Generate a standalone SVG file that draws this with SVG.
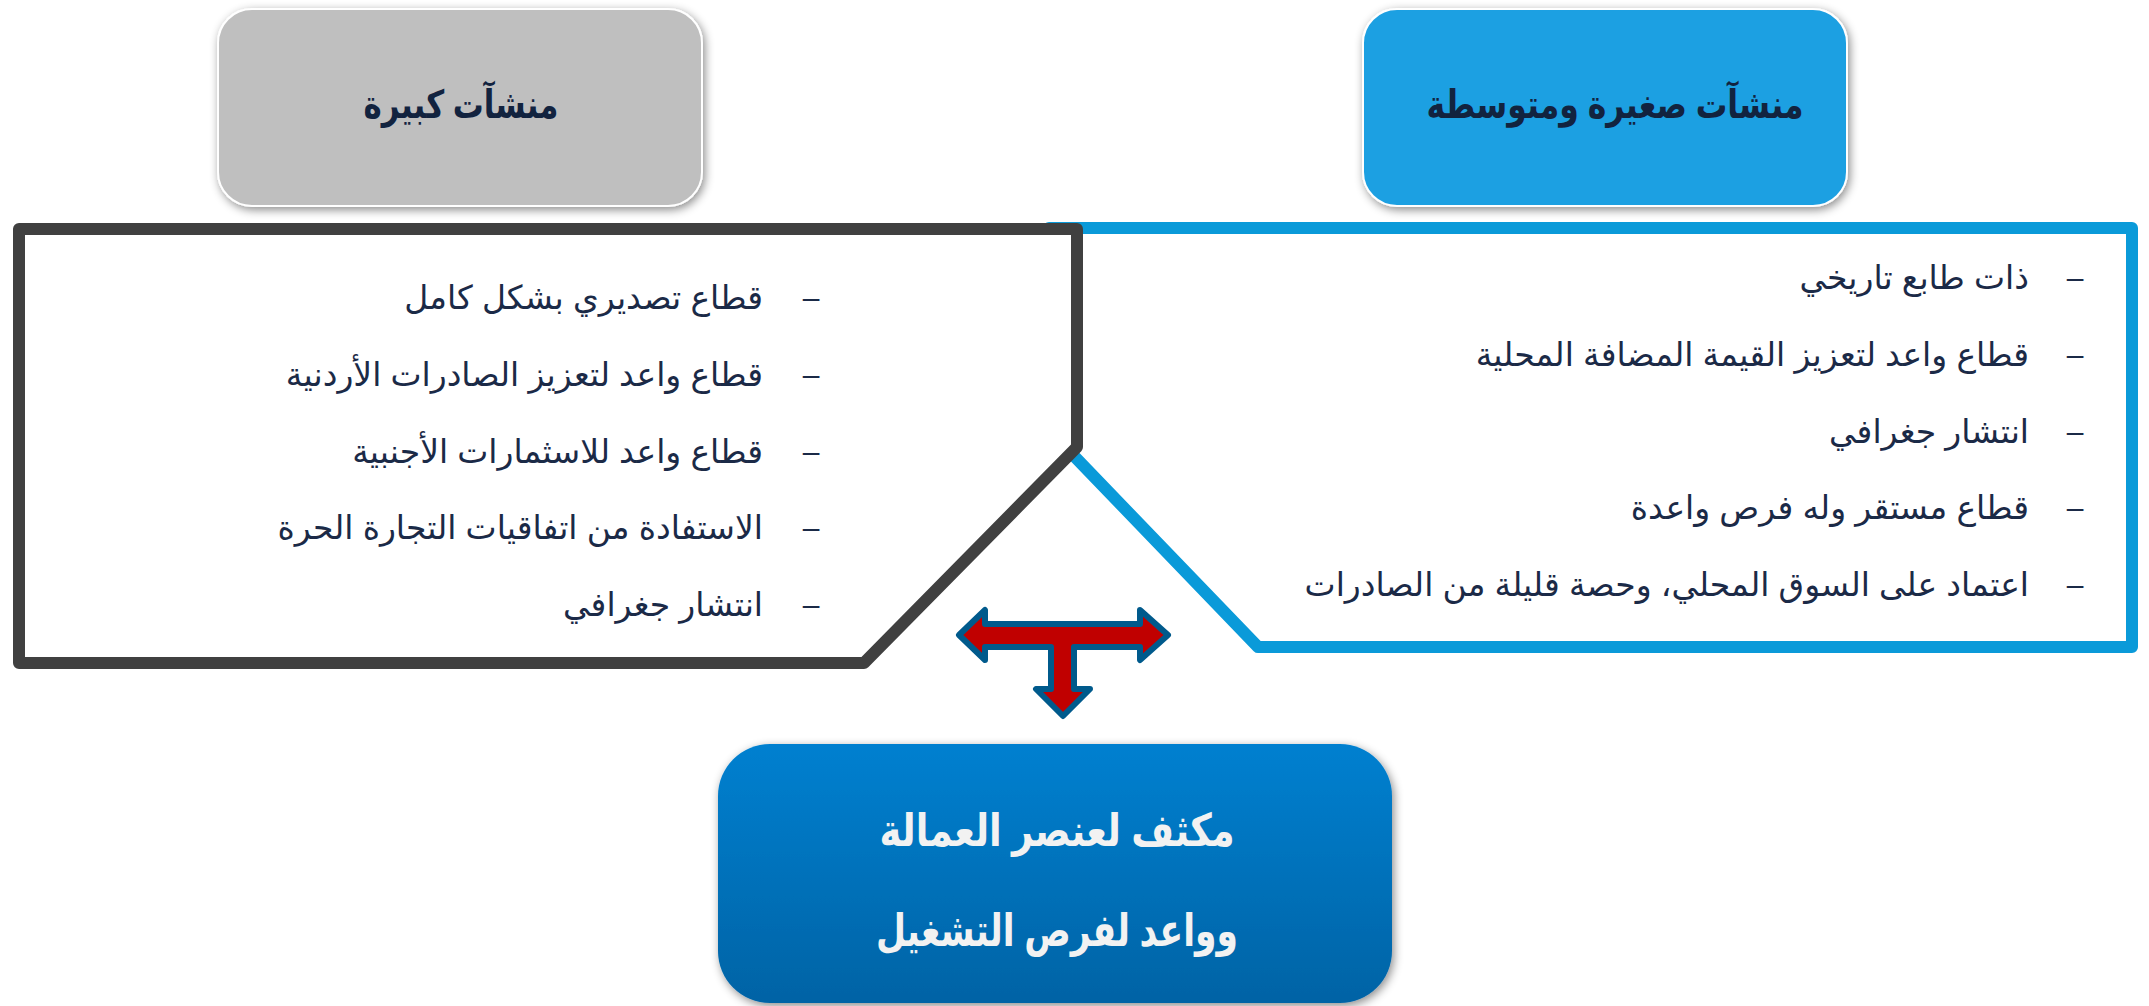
<svg xmlns="http://www.w3.org/2000/svg" width="2149" height="1006" viewBox="0 0 2149 1006">
<defs>
<style>
.hd{font-family:"Liberation Sans","DejaVu Sans",sans-serif;font-weight:bold;font-size:39px;fill:#12233F;text-anchor:middle}
.li{font-family:"Liberation Sans","DejaVu Sans",sans-serif;font-size:33px;fill:#1B2A47;text-anchor:end}
.da{font-family:"Liberation Sans",sans-serif;font-size:30px;fill:#1B2A47;text-anchor:middle}
.bt{font-family:"Liberation Sans","DejaVu Sans",sans-serif;font-weight:bold;font-size:45px;fill:#F2F2F2;text-anchor:middle}
</style>
<filter id="sh" x="-10%" y="-20%" width="120%" height="140%">
<feDropShadow dx="2" dy="3" stdDeviation="5" flood-color="#000" flood-opacity="0.45"/>
</filter>
<linearGradient id="gb" x1="0" y1="0" x2="0" y2="1">
<stop offset="0" stop-color="#0080D0"/>
<stop offset="1" stop-color="#0063A5"/>
</linearGradient>
</defs>
<rect width="2149" height="1006" fill="#FFFFFF"/>
<g id="small-medium-panel">
<path d="M1049,228 L2132,228 L2132,647 L1258,647 L1049,430 Z" fill="#FFFFFF" stroke="#0A9AD9" stroke-width="12" stroke-linejoin="round"/>
<text class="da" x="2075" y="288">–</text>
<text class="li" x="2029" y="289">ذات طابع تاريخي</text>
<text class="da" x="2075" y="365">–</text>
<text class="li" x="2029" y="366">قطاع واعد لتعزيز  القيمة المضافة المحلية</text>
<text class="da" x="2075" y="442">–</text>
<text class="li" x="2029" y="443">انتشار جغرافي</text>
<text class="da" x="2075" y="518">–</text>
<text class="li" x="2029" y="519">قطاع مستقر وله فرص واعدة</text>
<text class="da" x="2075" y="595">–</text>
<text class="li" x="2029" y="596">اعتماد على السوق المحلي، وحصة قليلة من الصادرات</text>
</g>
<g id="large-panel">
<path d="M19,229 L1077,229 L1077,447 L864,663 L19,663 Z" fill="#FFFFFF" stroke="#404040" stroke-width="12" stroke-linejoin="round"/>
<text class="da" x="811" y="308">–</text>
<text class="li" x="763" y="309">قطاع تصديري بشكل كامل</text>
<text class="da" x="811" y="385">–</text>
<text class="li" x="763" y="386">قطاع واعد لتعزيز  الصادرات الأردنية</text>
<text class="da" x="811" y="462">–</text>
<text class="li" x="763" y="463">قطاع واعد للاسثمارات الأجنبية</text>
<text class="da" x="811" y="538">–</text>
<text class="li" x="763" y="539">الاستفادة من اتفاقيات التجارة الحرة</text>
<text class="da" x="811" y="615">–</text>
<text class="li" x="763" y="616">انتشار جغرافي</text>
</g>
<g id="large-header">
<rect x="218" y="9" width="484" height="197" rx="34" fill="#BFBFBF" stroke="#FFFFFF" stroke-width="2" filter="url(#sh)"/>
<text class="hd" x="461" y="118" textLength="195" lengthAdjust="spacingAndGlyphs">منشآت كبيرة</text>
</g>
<g id="sme-header">
<rect x="1363" y="9" width="484" height="197" rx="34" fill="#1FA0E2" stroke="#FFFFFF" stroke-width="2" filter="url(#sh)"/>
<text class="hd" x="1615" y="118" textLength="377" lengthAdjust="spacingAndGlyphs">منشآت صغيرة ومتوسطة</text>
</g>
<g id="labour-box">
<rect x="718" y="744" width="674" height="259" rx="52" fill="url(#gb)" filter="url(#sh)"/>
<text class="bt" x="1057" y="846" textLength="355" lengthAdjust="spacingAndGlyphs">مكثف لعنصر العمالة</text>
<text class="bt" x="1057" y="946" textLength="362" lengthAdjust="spacingAndGlyphs">وواعد لفرص التشغيل</text>
</g>
<g id="connectors">
<path d="M959,635 L985,610 L985,624 L1140,624 L1140,610 L1168,635 L1140,660 L1140,647 L1074,647 L1074,689 L1090,689 L1063,716 L1036,689 L1051,689 L1051,647 L985,647 L985,660 Z" fill="#C00000" stroke="#005A8C" stroke-width="6" stroke-linejoin="round"/>
</g>
</svg>
